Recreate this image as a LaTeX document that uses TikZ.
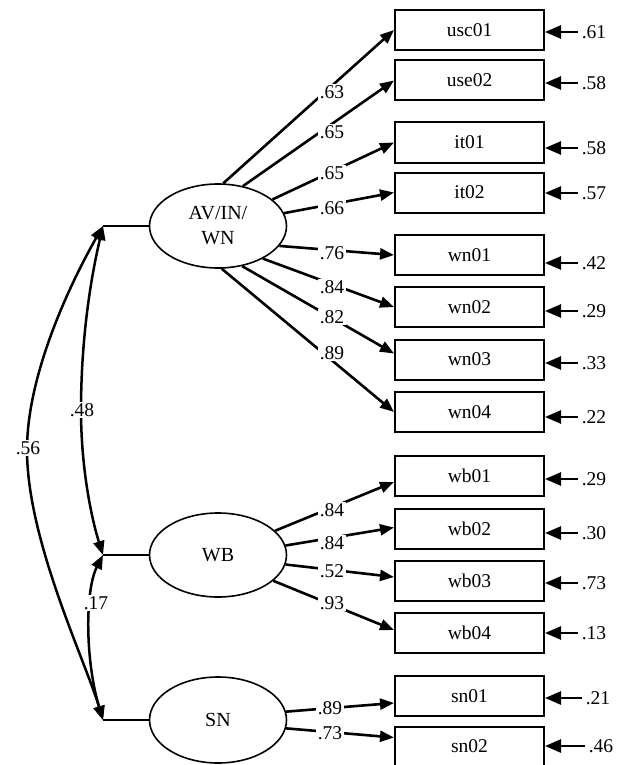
\documentclass[tikz,border=0pt]{standalone}
\usepackage{fontspec}
\setmainfont{Liberation Serif}
\usetikzlibrary{arrows.meta,calc,shapes.geometric}
\begin{document}
\begin{tikzpicture}[x=1pt,y=-1pt,
  latent/.style={draw, ellipse, line width=1.6pt, minimum width=137pt, minimum height=84pt, inner sep=0pt, align=center, font=\fontsize{20}{25}\selectfont},
  obs/.style={draw, rectangle, line width=2pt, minimum width=149pt, minimum height=40pt, inner sep=0pt, font=\fontsize{19.5}{22}\selectfont},
  lab/.style={fill=white, inner sep=1.5pt, font=\fontsize{19.5}{21}\selectfont},
  elab/.style={inner sep=4pt, font=\fontsize{19.5}{21}\selectfont},
  load/.style={line width=2.6pt, -{Triangle[length=14pt,width=11pt]}},
  err/.style={line width=2.6pt, -{Triangle[length=16pt,width=13pt]}},
  cov/.style={line width=2.5pt, {Triangle[length=14pt,width=11pt]}-{Triangle[length=14pt,width=11pt]}},
  link/.style={line width=1.6pt}
]
\useasboundingbox (0,0) rectangle (616,765);
\fill[white] (0,0) rectangle (616,765);

% latent variables
\node[latent] (av) at (218,226) {AV/IN/\\WN};
\node[latent] (wb) at (218,555) {WB};
\node[latent, minimum height=86pt] (sn) at (218,720) {SN};

% observed variables
\node[obs] (usc01) at (469.5,30) {usc01};
\node[obs] (use02) at (469.5,80.5) {use02};
\node[obs] (it01) at (469.5,142.5) {it01};
\node[obs] (it02) at (469.5,192.5) {it02};
\node[obs] (wn01) at (469.5,255) {wn01};
\node[obs] (wn02) at (469.5,307) {wn02};
\node[obs] (wn03) at (469.5,359.5) {wn03};
\node[obs] (wn04) at (469.5,412) {wn04};
\node[obs] (wb01) at (469.5,476) {wb01};
\node[obs] (wb02) at (469.5,528.5) {wb02};
\node[obs] (wb03) at (469.5,581) {wb03};
\node[obs] (wb04) at (469.5,633) {wb04};
\node[obs] (sn01) at (469.5,696) {sn01};
\node[obs] (sn02) at (469.5,746.5) {sn02};

% junctions
\coordinate (ja) at (103,226);
\coordinate (jw) at (103,555);
\coordinate (js) at (103,720);
\draw[link] (ja) -- (av.west);
\draw[link] (jw) -- (wb.west);
\draw[link] (js) -- (sn.west);

% covariances
\draw[cov] (ja) .. controls (88,290) and (81,350) .. (81,410) .. controls (81,470) and (92,520) .. (jw);
\draw[cov] (ja) .. controls (75,275) and (27,370) .. (27,450) .. controls (27,540) and (85,660) .. (js);
\draw[cov] (jw) .. controls (85,590) and (85,660) .. (js);
\node[lab] (c48) at (82,410) {.48};
\node[lab] (c56) at (28,448) {.56};
\node[lab] (c17) at (96,603) {.17};

% loadings AV/IN/WN
\draw[load] (av.83) -- (usc01.west);
\draw[load] (av.58) -- (use02.west);
\draw[load] (av.26) -- (it01.west);
\draw[load] (av.11) -- (it02.west);
\draw[load] (av.-18) -- (wn01.west);
\draw[load] (av.-36) -- (wn02.west);
\draw[load] (av.-59) -- ($(wn03.west)+(0,-6)$);
\draw[load] (av.-85) -- (wn04.west);
\node[lab] (l1) at (332,92) {.63};
\node[lab] (l2) at (332,132) {.65};
\node[lab] (l3) at (332,173) {.65};
\node[lab] (l4) at (332,208) {.66};
\node[lab] (l5) at (332,253) {.76};
\node[lab] (l6) at (332,287) {.84};
\node[lab] (l7) at (332,317) {.82};
\node[lab] (l8) at (332,353) {.89};

% loadings WB
\draw[load] (wb.23) -- ($(wb01.west)+(0,6)$);
\draw[load] (wb.8) -- ($(wb02.west)+(0,-1)$);
\draw[load] (wb.-8) -- ($(wb03.west)+(0,-4)$);
\draw[load] (wb.-25) -- ($(wb04.west)+(0,-3)$);
\node[lab] (l9) at (332,510) {.84};
\node[lab] (l10) at (332,543) {.84};
\node[lab] (l11) at (332,571) {.52};
\node[lab] (l12) at (332,603) {.93};

% loadings SN
\draw[load] (sn.7) -- ($(sn01.west)+(0,7)$);
\draw[load] (sn.-7) -- ($(sn02.west)+(0,-9)$);
\node[lab] (l13) at (330,708) {.89};
\node[lab] (l14) at (330,733) {.73};

% error terms
\node[elab] (e1) at (594,32) {.61};
\node[elab] (e2) at (594,83) {.58};
\node[elab] (e3) at (594,148) {.58};
\node[elab] (e4) at (594,193) {.57};
\node[elab] (e5) at (594,263) {.42};
\node[elab] (e6) at (594,311) {.29};
\node[elab] (e7) at (594,363) {.33};
\node[elab] (e8) at (594,417) {.22};
\node[elab] (e9) at (594,479) {.29};
\node[elab] (e10) at (594,533) {.30};
\node[elab] (e11) at (594,583) {.73};
\node[elab] (e12) at (594,633) {.13};
\node[elab] (e13) at (598,698) {.21};
\node[elab] (e14) at (601,746) {.46};
\draw[err] (e1.west) -- (usc01.east |- e1.west);
\draw[err] (e2.west) -- (use02.east |- e2.west);
\draw[err] (e3.west) -- (it01.east |- e3.west);
\draw[err] (e4.west) -- (it02.east |- e4.west);
\draw[err] (e5.west) -- (wn01.east |- e5.west);
\draw[err] (e6.west) -- (wn02.east |- e6.west);
\draw[err] (e7.west) -- (wn03.east |- e7.west);
\draw[err] (e8.west) -- (wn04.east |- e8.west);
\draw[err] (e9.west) -- (wb01.east |- e9.west);
\draw[err] (e10.west) -- (wb02.east |- e10.west);
\draw[err] (e11.west) -- (wb03.east |- e11.west);
\draw[err] (e12.west) -- (wb04.east |- e12.west);
\draw[err] (e13.west) -- (sn01.east |- e13.west);
\draw[err] (e14.west) -- (sn02.east |- e14.west);
\end{tikzpicture}
\end{document}
